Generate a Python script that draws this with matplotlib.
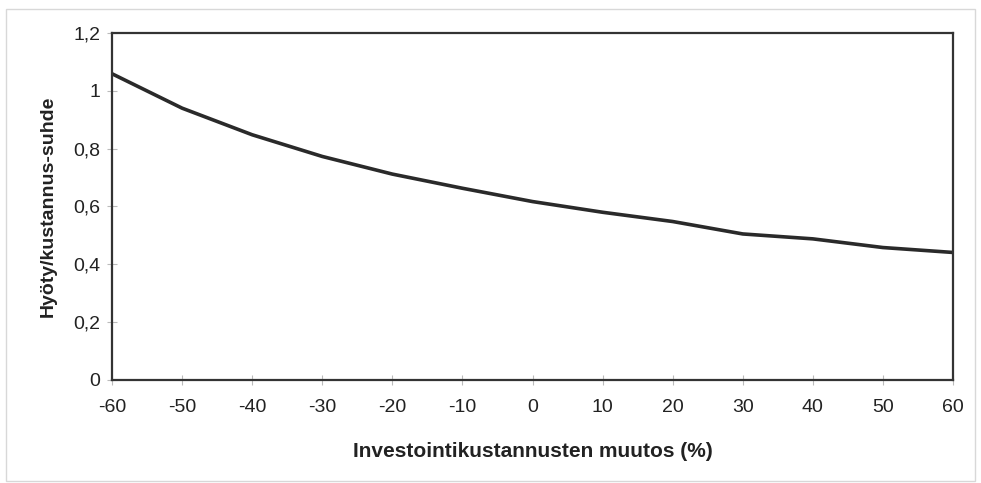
"""Benefit/cost ratio vs change in investment costs."""

import matplotlib.pyplot as plt
from matplotlib.patches import Rectangle
from matplotlib.ticker import FuncFormatter

plt.rcParams["font.family"] = ["Liberation Sans", "DejaVu Sans"]
plt.rcParams["axes.unicode_minus"] = False

cost_change = [-60, -50, -40, -30, -20, -10, 0, 10, 20, 30, 40, 50, 60]
bc_ratio = [1.059, 0.94, 0.848, 0.773, 0.712, 0.663, 0.617, 0.580, 0.548, 0.505, 0.488, 0.458, 0.441]

x_ticks = list(range(-60, 61, 10))
y_ticks = [0, 0.2, 0.4, 0.6, 0.8, 1.0, 1.2]


def comma_fmt(v, _pos):
    s = f"{v:.1f}".rstrip("0").rstrip(".")
    return s.replace(".", ",")


fig = plt.figure(figsize=(9.81, 4.83), dpi=100)
fig.patches.append(Rectangle((0.006, 0.004), 0.988, 0.978, transform=fig.transFigure,
                             fill=False, edgecolor="#d8d8d8", linewidth=1.0))

ax = fig.add_axes([0.1142, 0.2133, 0.8573, 0.7184])
ax.plot(cost_change, bc_ratio, color="#2a2a2a", linewidth=2.6, solid_capstyle="round")

ax.set_xlim(-60, 60)
ax.set_ylim(0, 1.2)
ax.set_xticks(x_ticks)
ax.set_yticks(y_ticks)
ax.yaxis.set_major_formatter(FuncFormatter(comma_fmt))
ax.tick_params(direction="inout", length=7, width=0.8, color="#bbbbbb",
               labelsize=14, labelcolor="#222222")
ax.tick_params(axis="x", pad=10)
ax.tick_params(axis="y", pad=5)
for sp in ax.spines.values():
    sp.set_linewidth(1.6)
    sp.set_color("#333333")

ax.set_xlabel("Investointikustannusten muutos (%)", fontsize=15, fontweight="bold",
              labelpad=19, color="#222222")
ax.set_ylabel("Hyöty/kustannus-suhde", fontsize=14, fontweight="bold",
              labelpad=12, color="#222222")

plt.savefig("out.png", dpi=100)
